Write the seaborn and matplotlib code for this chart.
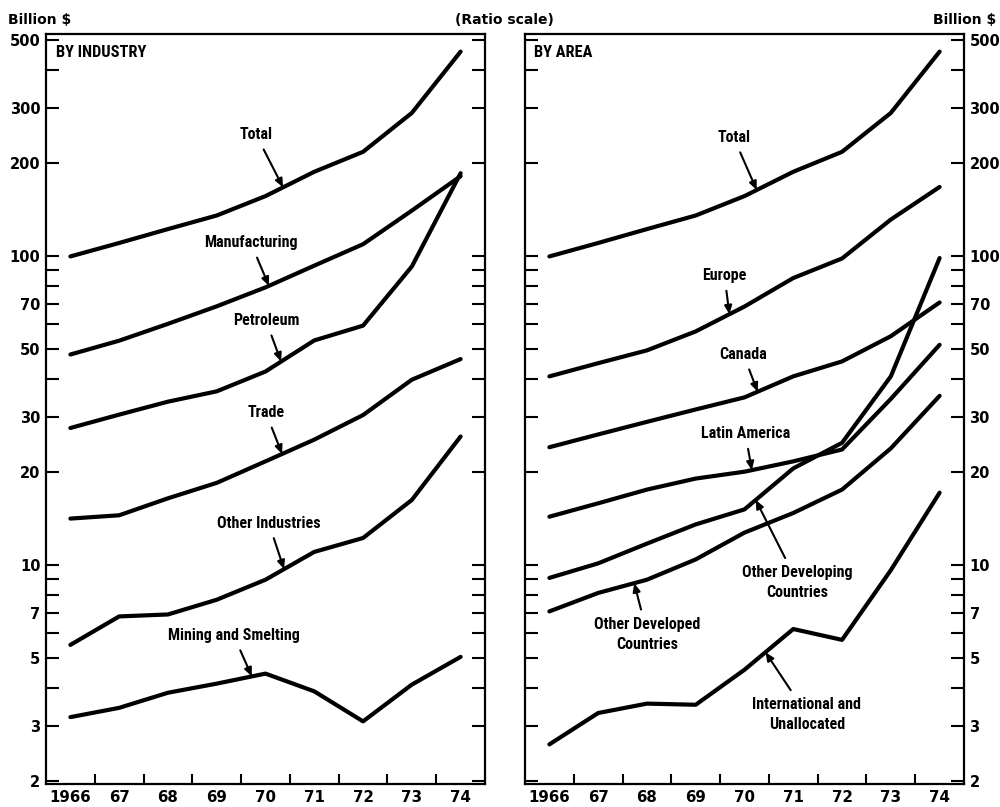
import numpy as np
import pandas as pd
import matplotlib
matplotlib.use("Agg")
import matplotlib.pyplot as plt
import seaborn as sns
from matplotlib.ticker import FixedLocator, FixedFormatter, NullFormatter

# ---------------- data ----------------
years = [1966, 1967, 1968, 1969, 1970, 1971, 1972, 1973, 1974]
year_labels = ["1966", "67", "68", "69", "70", "71", "72", "73", "74"]

ind_total = [99.5, 110, 122, 135, 156, 187, 217, 290, 458]
ind_manufacturing = [47.9, 53.1, 60.2, 68.6, 79, 92.9, 109, 140, 181]
ind_petroleum = [27.7, 30.6, 33.7, 36.4, 42.2, 53.2, 59.4, 92.3, 185]
ind_trade = [14.1, 14.45, 16.4, 18.4, 21.6, 25.4, 30.5, 39.7, 46.3]
ind_other = [5.5, 6.8, 6.9, 7.7, 8.94, 11.0, 12.2, 16.2, 26.0]
ind_mining = [3.21, 3.44, 3.85, 4.12, 4.44, 3.89, 3.11, 4.09, 5.03]

area_total = [99.5, 110, 122, 135, 156, 187, 217, 290, 458]
area_europe = [40.7, 44.9, 49.4, 56.9, 68.5, 84.7, 98, 131, 167]
area_canada = [24.0, 26.4, 29.0, 31.8, 34.8, 40.7, 45.5, 54.9, 70.6]
area_latin = [14.3, 15.8, 17.5, 19.0, 20.0, 21.6, 23.6, 34.4, 51.5]
area_oth_developing = [9.06, 10.1, 11.7, 13.5, 15.1, 20.5, 24.8, 40.7, 98.3]
area_oth_developed = [7.06, 8.1, 8.94, 10.4, 12.7, 14.7, 17.5, 23.8, 35.2]
area_intl = [2.62, 3.31, 3.55, 3.52, 4.57, 6.19, 5.71, 9.6, 17.1]

major_ticks = [2, 3, 5, 7, 10, 20, 30, 50, 70, 100, 200, 300, 500]
minor_ticks = [4, 6, 8, 9, 40, 60, 80, 90, 400]

industry_series = {
    "Total": ind_total,
    "Manufacturing": ind_manufacturing,
    "Petroleum": ind_petroleum,
    "Trade": ind_trade,
    "Other Industries": ind_other,
    "Mining and Smelting": ind_mining,
}
area_series = {
    "Total": area_total,
    "Europe": area_europe,
    "Canada": area_canada,
    "Latin America": area_latin,
    "Other Developing\nCountries": area_oth_developing,
    "Other Developed\nCountries": area_oth_developed,
    "International and\nUnallocated": area_intl,
}

# ---------------- style ----------------
sns.set_style("ticks")
plt.rcParams["font.family"] = ["DejaVu Sans"]
for key in ("text.color", "axes.labelcolor", "xtick.color", "ytick.color", "axes.edgecolor"):
    plt.rcParams[key] = "black"
NARROW = ["Liberation Sans Narrow", "DejaVu Sans Condensed", "Roboto Condensed", "DejaVu Sans"]

fig = plt.figure(figsize=(10, 8.07), dpi=100)
ax1 = fig.add_axes([0.046, 0.0285, 0.439, 0.9293])
ax2 = fig.add_axes([0.525, 0.0285, 0.439, 0.9293])


def long_df(series):
    rows = []
    for name, vals in series.items():
        for y, v in zip(years, vals):
            rows.append({"year": y, "value": v, "series": name})
    return pd.DataFrame(rows)


def setup(ax, labels_right):
    ax.set_yscale("log")
    ax.set_ylim(1.95, 522)
    ax.set_xlim(1965.5, 1974.5)
    ax.yaxis.set_major_locator(FixedLocator(major_ticks))
    ax.yaxis.set_major_formatter(FixedFormatter([str(t) for t in major_ticks]))
    ax.yaxis.set_minor_locator(FixedLocator(minor_ticks))
    ax.yaxis.set_minor_formatter(NullFormatter())
    ax.tick_params(axis="y", which="both", direction="in", length=9.5, width=1.5,
                   left=True, right=True, labelleft=not labels_right,
                   labelright=labels_right, labelsize=10.5, pad=4)
    ax.set_xticks(years)
    ax.set_xticklabels(year_labels, fontsize=10.8, fontweight="bold")
    ax.set_xticks(np.arange(1966.5, 1974, 1.0), minor=True)
    ax.tick_params(axis="x", which="major", length=0, pad=4)
    ax.tick_params(axis="x", which="minor", direction="in", length=7.5, width=1.5,
                   bottom=True, top=False)
    for lab in ax.get_yticklabels():
        lab.set_fontweight("bold")
    for sp in ax.spines.values():
        sp.set_linewidth(1.6)
        sp.set_color("black")
    ax.set_xlabel("")
    ax.set_ylabel("")


def tip_value(vals, t):
    return 10 ** np.interp(t, years, np.log10(vals))


def label(ax, text, vals, text_xy, tip_x):
    ax.annotate(text, xy=(tip_x, tip_value(vals, tip_x)), xytext=text_xy,
                textcoords="data", ha="center", va="center",
                fontsize=11.5, fontweight="bold", family=NARROW,
                fontstretch="condensed", linespacing=1.45,
                arrowprops=dict(arrowstyle="-|>,head_length=0.5,head_width=0.22",
                                color="black", lw=1.5,
                                mutation_scale=10, shrinkA=3, shrinkB=0))


for ax, series in ((ax1, industry_series), (ax2, area_series)):
    df = long_df(series)
    sns.lineplot(data=df, x="year", y="value", hue="series",
                 palette=["black"] * len(series), legend=False,
                 estimator=None, linewidth=3.0, ax=ax)

setup(ax1, labels_right=False)
setup(ax2, labels_right=True)

# annotations, left panel
label(ax1, "Total", ind_total, (1969.81, 246), 1970.36)
label(ax1, "Manufacturing", ind_manufacturing, (1969.70, 110), 1970.07)
label(ax1, "Petroleum", ind_petroleum, (1970.01, 61.6), 1970.32)
label(ax1, "Trade", ind_trade, (1970.01, 31.0), 1970.34)
label(ax1, "Other Industries", ind_other, (1970.07, 13.6), 1970.38)
label(ax1, "Mining and Smelting", ind_mining, (1969.35, 5.89), 1969.72)

# annotations, right panel
label(ax2, "Total", area_total, (1969.78, 241), 1970.25)
label(ax2, "Europe", area_europe, (1969.59, 86.1), 1969.69)
label(ax2, "Canada", area_canada, (1969.98, 47.8), 1970.27)
label(ax2, "Latin America", area_latin, (1970.02, 26.5), 1970.15)
label(ax2, "Other Developing\nCountries", area_oth_developing, (1971.09, 8.74), 1970.23)
label(ax2, "Other Developed\nCountries", area_oth_developed, (1968.01, 5.94), 1967.74)
label(ax2, "International and\nUnallocated", area_intl, (1971.28, 3.27), 1970.43)

ax1.text(0.023, 0.976, "BY INDUSTRY", transform=ax1.transAxes, ha="left", va="center",
         fontsize=11.8, fontweight="bold", family=NARROW, fontstretch="condensed")
ax2.text(0.021, 0.976, "BY AREA", transform=ax2.transAxes, ha="left", va="center",
         fontsize=11.8, fontweight="bold", family=NARROW, fontstretch="condensed")

fig.text(0.008, 0.975, "Billion $", ha="left", va="center", fontsize=10, fontweight="bold")
fig.text(0.504, 0.975, "(Ratio scale)", ha="center", va="center", fontsize=10, fontweight="bold")
fig.text(0.933, 0.975, "Billion $", ha="left", va="center", fontsize=10, fontweight="bold")

fig.savefig("out.png", dpi=100)
